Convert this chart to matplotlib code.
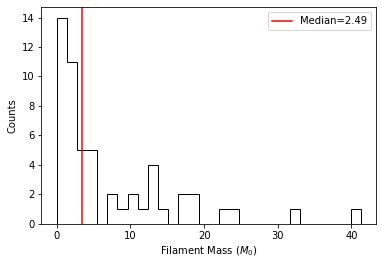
import matplotlib
matplotlib.use("Agg")
import matplotlib.pyplot as plt
import numpy as np

# bins of width 1.375 from 0 to 41.25
bin_edges = np.linspace(0, 41.25, 31)
counts = [14, 11, 5, 5, 0, 2, 1, 2, 1, 4, 1, 0, 2, 2, 0,
          0, 1, 1, 0, 0, 0, 0, 0, 1, 0, 0, 0, 0, 0, 1]
median_pos = 3.45
median_label = "Median=2.49"

fig, ax = plt.subplots(figsize=(382 / 72, 266 / 72), dpi=72)
fig.subplots_adjust(left=0.1086, right=0.984, bottom=0.159, top=0.9726)

ax.hist(bin_edges[:-1], bins=bin_edges, weights=counts, histtype='step', color='k')
ax.axvline(median_pos, color='r', label=median_label)
ax.set_yticks(range(0, 15, 2))
ax.set_xlabel(r"Filament Mass ($M_0$)")
ax.set_ylabel("Counts")
ax.legend(loc='upper right')

fig.savefig("out.png", dpi=72)
